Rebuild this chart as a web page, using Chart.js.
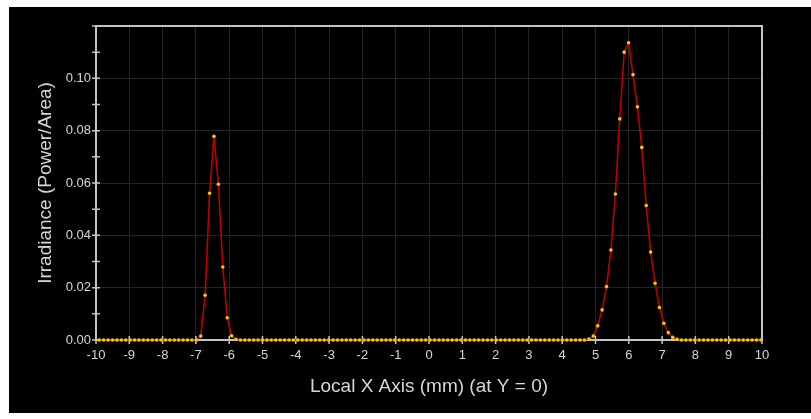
<!DOCTYPE html>
<html>
<head>
<meta charset="utf-8">
<script src="https://cdn.jsdelivr.net/npm/chart.js@4"></script>
<style>
  html, body { margin: 0; padding: 0; background: #fff; }
  #wrap { position: absolute; left: 9px; top: 7px; width: 802px; height: 406px; background: #000; }
</style>
</head>
<body>
<div id="wrap"><canvas id="irr" width="802" height="406"></canvas></div>
<script>
// detector samples across the x axis (mm), 151 pixels
const sampleCount = 151;
const xPos = Array.from({ length: sampleCount }, (_, k) => -10 + (k + 0.75) * 20 / sampleCount);

// irradiance, one value per sample
const irradiance = [
  0, 0, 0, 0, 0, 0, 0, 0, 0, 0,
  0, 0, 0, 0, 0, 0, 0, 0, 0, 0,
  0, 0, 0, 0.0015, 0.0171, 0.0561, 0.0778, 0.0595, 0.0279, 0.0085,
  0.0016, 0.0003, 0, 0, 0, 0, 0, 0, 0, 0,
  0, 0, 0, 0, 0, 0, 0, 0, 0, 0,
  0, 0, 0, 0, 0, 0, 0, 0, 0, 0,
  0, 0, 0, 0, 0, 0, 0, 0, 0, 0,
  0, 0, 0, 0, 0, 0, 0, 0, 0, 0,
  0, 0, 0, 0, 0, 0, 0, 0, 0, 0,
  0, 0, 0, 0, 0, 0, 0, 0, 0, 0,
  0, 0, 0, 0, 0, 0, 0, 0, 0, 0,
  0, 0.0004, 0.0015, 0.0054, 0.0115, 0.0204, 0.0344, 0.0558, 0.0845, 0.1100,
  0.1136, 0.1014, 0.0891, 0.0736, 0.0514, 0.0336, 0.0217, 0.0124, 0.0064, 0.0028,
  0.0010, 0.0003, 0, 0, 0, 0, 0, 0, 0, 0,
  0, 0, 0, 0, 0, 0, 0, 0, 0, 0,
  0
];

const xRange = [-10, 10];
const yRange = [0, 0.12];
const xTitle = 'Local X Axis (mm) (at Y = 0)';
const yTitle = 'Irradiance (Power/Area)';

const textColor = '#d6d6d6';
const gridColor = '#242424';
const frameColor = '#c4c4c4';

// white frame round the plot and the small ticks crossing the axes
const frame = {
  id: 'frame',
  beforeDatasetsDraw(chart) {
    const { ctx, chartArea: a, scales: { x, y } } = chart;
    ctx.save();
    ctx.strokeStyle = frameColor;
    ctx.lineWidth = 2;
    ctx.strokeRect(a.left, a.top, a.right - a.left, a.bottom - a.top);
    ctx.lineWidth = 1.5;
    ctx.beginPath();
    x.ticks.forEach(t => {
      const px = x.getPixelForValue(t.value);
      ctx.moveTo(px, a.bottom - 4);
      ctx.lineTo(px, a.bottom + 4);
    });
    y.ticks.forEach(t => {
      const py = y.getPixelForValue(t.value);
      ctx.moveTo(a.left - 4, py);
      ctx.lineTo(a.left + 4, py);
    });
    ctx.stroke();
    ctx.restore();
  },
};

const isMajor = v => Math.round(v * 100) % 2 === 0;

const chart = new Chart(document.getElementById('irr').getContext('2d'), {
  type: 'line',
  data: {
    datasets: [
      {
        data: xPos.map((x, i) => ({ x: x, y: irradiance[i] })),
        borderColor: '#bb0000',
        borderWidth: 1.6,
        pointBackgroundColor: '#f7c600',
        pointBorderWidth: 0,
        pointRadius: 1.8,
        clip: 6,
      },
    ],
  },
  options: {
    responsive: false,
    animation: false,
    layout: { padding: { left: 0, right: 49, top: 19, bottom: 0 } },
    plugins: { legend: { display: false }, tooltip: { enabled: false } },
    scales: {
      x: {
        type: 'linear',
        min: xRange[0],
        max: xRange[1],
        afterFit: s => { s.height = 73; },
        border: { display: false },
        grid: { color: gridColor, drawTicks: false },
        ticks: {
          stepSize: 1,
          padding: 8,
          color: textColor,
          font: { family: 'Liberation Sans, Arial', size: 13 },
        },
        title: {
          display: true,
          text: xTitle,
          color: textColor,
          font: { family: 'Liberation Sans, Arial', size: 19 },
          padding: { top: 0, bottom: 15 },
        },
      },
      y: {
        min: yRange[0],
        max: yRange[1],
        afterFit: s => { s.width = 87; },
        border: { display: false },
        grid: {
          drawTicks: false,
          color: c => (isMajor(c.tick.value) ? gridColor : 'rgba(0,0,0,0)'),
        },
        ticks: {
          stepSize: 0.01,
          padding: 5,
          color: textColor,
          font: { family: 'Liberation Sans, Arial', size: 13 },
          callback: v => (isMajor(v) && v < 0.115 ? v.toFixed(2) : ''),
        },
        title: {
          display: true,
          text: yTitle,
          color: textColor,
          font: { family: 'Liberation Sans, Arial', size: 19 },
          padding: { top: 25, bottom: 0 },
        },
      },
    },
  },
  plugins: [frame],
});
</script>
</body>
</html>
